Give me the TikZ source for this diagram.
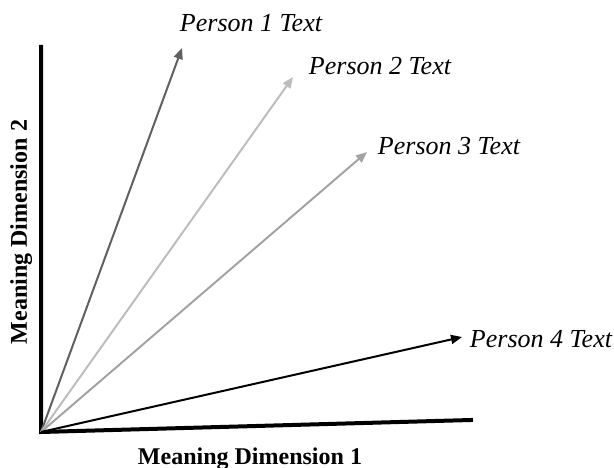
\documentclass[tikz,border=0pt]{standalone}
\usepackage{fontspec}
\setmainfont{Liberation Serif}
\usetikzlibrary{arrows.meta}
\definecolor{gA}{HTML}{606060}
\definecolor{gB}{HTML}{BDBDBD}
\definecolor{gC}{HTML}{A3A3A3}
\begin{document}
\begin{tikzpicture}[x=1pt,y=-1pt,
  axis/.style={line width=4pt},
  vec/.style={line width=2pt,-{Triangle[length=11pt,width=9pt]}},
  plabel/.style={font=\fontsize{26}{28}\selectfont\itshape,inner sep=0pt,anchor=base},
  alabel/.style={font=\fontsize{24}{26}\selectfont\bfseries,inner sep=0pt,anchor=base}]
\useasboundingbox (0,0) rectangle (614,468);
\coordinate (o) at (41,432);
\coordinate (ytop) at (41,47);
\coordinate (xend) at (471,420);
\draw[axis,line cap=rect] (ytop) -- (o) -- (xend);
\coordinate (p1) at (182,48);
\coordinate (p2) at (293,77);
\coordinate (p3) at (367,152);
\coordinate (p4) at (462,337);
\draw[vec,gA] (o) -- (p1);
\draw[vec,gB] (o) -- (p2);
\draw[vec,gC] (o) -- (p3);
\draw[vec,black] (o) -- (p4);
\node[plabel] (t1) at (251,32) {Person 1 Text};
\node[plabel] (t2) at (380,75) {Person 2 Text};
\node[plabel] (t3) at (449,155) {Person 3 Text};
\node[plabel] (t4) at (541,348) {Person 4 Text};
\node[alabel] (dx) at (250,464) {Meaning Dimension 1};
\node[alabel,rotate=90] (dy) at (27,232) {Meaning Dimension 2};
\end{tikzpicture}
\end{document}
